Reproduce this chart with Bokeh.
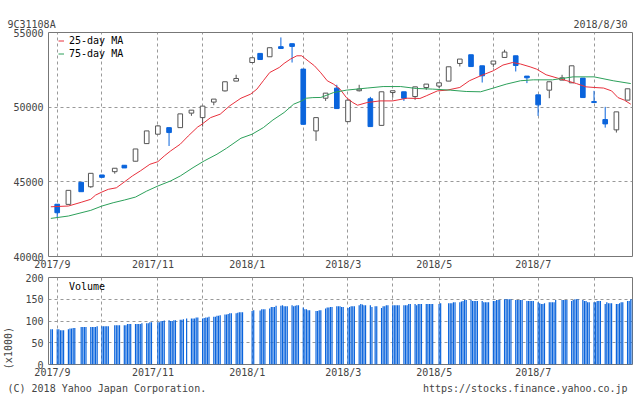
import pandas as pd
from bokeh.plotting import figure
from bokeh.models import FixedTicker, Legend, Range1d, ColumnDataSource
from bokeh.layouts import column
from bokeh.embed import file_html
from bokeh.resources import INLINE

# ---------------- data ----------------
week_dates = ["2017-09-04", "2017-09-11", "2017-09-19", "2017-09-25", "2017-10-02", "2017-10-10",
              "2017-10-16", "2017-10-23", "2017-10-30", "2017-11-06", "2017-11-13", "2017-11-20",
              "2017-11-27", "2017-12-04", "2017-12-11", "2017-12-18", "2017-12-25", "2018-01-04",
              "2018-01-09", "2018-01-15", "2018-01-22", "2018-01-29", "2018-02-05", "2018-02-13",
              "2018-02-19", "2018-02-26", "2018-03-05", "2018-03-12", "2018-03-19", "2018-03-26",
              "2018-04-02", "2018-04-09", "2018-04-16", "2018-04-23", "2018-05-01", "2018-05-07",
              "2018-05-14", "2018-05-21", "2018-05-28", "2018-06-04", "2018-06-11", "2018-06-18",
              "2018-06-25", "2018-07-02", "2018-07-09", "2018-07-17", "2018-07-23", "2018-07-30",
              "2018-08-06", "2018-08-13", "2018-08-20", "2018-08-27"]
open_ = [43500, 43490, 44970, 44670, 45460, 45680, 46110, 46380, 47560, 48190, 48630, 48630,
         49600, 49300, 50340, 51090, 51745, 52990, 53600, 53375, 54050, 54250, 52550, 48410,
         50600, 51275, 49030, 51100, 50560, 48780, 50980, 51030, 50710, 51315, 51410, 51745,
         52926, 53510, 52770, 52885, 53330, 53440, 52080, 50825, 51140, 51812, 51630, 51946,
         50376, 49170, 48480, 50470]
high = [43500, 44430, 44970, 45570, 45460, 45910, 46110, 47200, 48410, 48790, 48630, 49550,
        49800, 50070, 50540, 51700, 52170, 53310, 53600, 53980, 54670, 54250, 52550, 49300,
        50940, 51500, 50470, 51500, 50690, 51030, 51100, 51030, 51360, 51545, 51630, 52704,
        53221, 53510, 52770, 53090, 53845, 53440, 52080, 50825, 51700, 52167, 52770, 51946,
        51094, 50020, 49685, 51230]
low = [42600, 43490, 44340, 44600, 45300, 45545, 45930, 46380, 47560, 48190, 47400, 48630,
       49420, 48700, 50130, 51050, 51745, 52990, 53190, 53375, 53930, 52990, 48850, 47740,
       50420, 49906, 49030, 51050, 48700, 48780, 50640, 50420, 50490, 51160, 51275, 51745,
       52724, 52720, 51650, 52700, 53330, 52390, 51610, 49416, 50600, 51812, 51630, 50644,
       50309, 48630, 48300, 50470]
close = [42930, 44430, 44340, 45570, 45300, 45910, 45930, 47200, 48410, 48745, 48300, 49550,
         49800, 50070, 50540, 51700, 51920, 53310, 53190, 53980, 53930, 54070, 48850, 49300,
         50940, 49906, 50470, 51210, 48700, 51030, 51100, 50600, 51360, 51545, 51630, 52704,
         53221, 52720, 52100, 53090, 53690, 52790, 51966, 50154, 51700, 51966, 52770, 50644,
         50309, 48880, 49685, 51230]

ma25_dates = ["2017-08-31", "2017-09-11", "2017-09-19", "2017-09-25", "2017-09-28", "2017-10-02",
              "2017-10-06", "2017-10-11", "2017-10-16", "2017-10-21", "2017-10-26", "2017-11-01",
              "2017-11-06", "2017-11-10", "2017-11-14", "2017-11-20", "2017-11-25", "2017-12-01",
              "2017-12-03", "2017-12-09", "2017-12-15", "2017-12-21", "2017-12-28", "2018-01-03",
              "2018-01-07", "2018-01-11", "2018-01-15", "2018-01-21", "2018-01-24", "2018-01-28",
              "2018-02-01", "2018-02-04", "2018-02-08", "2018-02-12", "2018-02-16", "2018-02-20",
              "2018-02-24", "2018-02-28", "2018-03-04", "2018-03-08", "2018-03-11", "2018-03-17",
              "2018-03-25", "2018-04-02", "2018-04-11", "2018-04-19", "2018-04-23", "2018-04-30",
              "2018-05-06", "2018-05-14", "2018-05-20", "2018-05-27", "2018-06-04", "2018-06-10",
              "2018-06-16", "2018-06-21", "2018-06-27", "2018-07-01", "2018-07-07", "2018-07-14",
              "2018-07-20", "2018-07-26", "2018-08-01", "2018-08-06", "2018-08-12", "2018-08-17",
              "2018-08-21", "2018-08-25", "2018-08-29"]
ma25 = [43330, 43380, 43630, 43830, 44110, 44320, 44500, 44600, 44990, 45390, 45730, 46175,
        46350, 46730, 47070, 47520, 48070, 48680, 48810, 49300, 49530, 50090, 50600, 50870,
        51210, 51770, 52320, 52660, 52930, 53220, 53440, 53440, 53100, 52770, 52300, 51770,
        51540, 51210, 50640, 50310, 50130, 50310, 50420, 50420, 50600, 50580, 50760, 51090,
        51140, 51320, 51770, 52100, 52440, 52820, 52990, 52890, 52700, 52550, 52170, 51950,
        51770, 51580, 51360, 51320, 51280, 51090, 50640, 50470, 50200]

ma75_dates = ["2017-08-31", "2017-09-11", "2017-09-25", "2017-10-02", "2017-10-09", "2017-10-16",
              "2017-10-23", "2017-10-30", "2017-11-06", "2017-11-14", "2017-11-20", "2017-11-28",
              "2017-12-05", "2017-12-13", "2017-12-19", "2017-12-28", "2018-01-04", "2018-01-11",
              "2018-01-17", "2018-01-24", "2018-01-30", "2018-02-04", "2018-02-07", "2018-02-11",
              "2018-02-16", "2018-02-24", "2018-03-04", "2018-03-17", "2018-03-27", "2018-04-07",
              "2018-04-17", "2018-04-27", "2018-05-08", "2018-05-18", "2018-05-27", "2018-06-04",
              "2018-06-12", "2018-06-21", "2018-06-29", "2018-07-11", "2018-07-24", "2018-08-06",
              "2018-08-18", "2018-08-29"]
ma75 = [42550, 42710, 43090, 43380, 43600, 43780, 43980, 44380, 44720, 45060, 45390, 45950,
        46400, 46850, 47250, 47920, 48190, 48630, 49140, 49640, 50200, 50420, 50600, 50640,
        50650, 50980, 51140, 51280, 51380, 51380, 51250, 51210, 51140, 51050, 51030, 51280,
        51540, 51770, 51830, 51830, 52030, 52030, 51770, 51580]

holidays = ["2017-09-18", "2017-10-09", "2017-11-03", "2017-11-23", "2018-01-01", "2018-01-02",
            "2018-01-03", "2018-01-08", "2018-02-12", "2018-03-21", "2018-04-30", "2018-05-03",
            "2018-05-04", "2018-07-16"]

# daily volume (x1000), one inner list per calendar week
vol_weeks = [
    [81, 81], [81, 81, 79, 79, 79], [81, 83, 83, 84, 84], [86, 86, 86, 86], [86, 86, 86, 86, 88],
    [88, 88, 88, 88, 88], [90, 90, 90, 90], [90, 90, 93, 93, 93], [93, 93, 93, 93, 95],
    [95, 95, 97, 97], [97, 97, 100, 100, 101], [102, 100, 100, 102, 102], [103, 103, 104, 106],
    [106, 106, 106, 108, 108], [106, 107, 108, 108, 110], [110, 110, 112, 112, 113],
    [115, 115, 116, 118, 118], [118, 119, 120, 120, 120], [123, 125], [124, 127, 127, 127],
    [129, 132, 132, 132, 135], [135, 136, 134, 134, 134], [136, 134, 135, 136, 136],
    [131, 127, 127, 125, 125], [123, 123, 125, 125], [129, 131, 131, 132, 132],
    [134, 134, 134, 132, 132], [130, 132, 134, 134, 134], [136, 139, 138, 136, 136],
    [136, 132, 134, 134], [130, 134, 134, 136, 136], [136, 136, 136, 136, 136],
    [136, 136, 136, 139, 139], [139, 136, 139, 139, 139], [139, 139, 139, 139, 139], [139, 141],
    [141, 141, 141, 143, 143], [143, 145, 146, 148, 148], [148, 146, 146, 146, 146],
    [146, 143, 143, 143, 143], [146, 146, 148, 148, 148], [150, 150, 150, 150, 150],
    [148, 148, 148, 148, 148], [146, 146, 146, 146, 146], [143, 141, 139, 139, 141],
    [143, 143, 143, 143, 148], [148, 148, 148, 148], [146, 148, 150, 150, 150],
    [148, 146, 146, 143, 143], [143, 143, 146, 146, 146], [139, 143, 141, 141, 141],
    [139, 139, 141, 143, 143], [146, 146, 150, 150],
]

grid_dates = ["2017-09-04", "2017-10-02", "2017-11-06", "2017-12-04", "2018-01-04", "2018-02-05",
              "2018-03-05", "2018-04-02", "2018-05-01", "2018-06-04", "2018-07-02", "2018-08-06"]
tick_labels = ["2017/9", "2017/11", "2018/1", "2018/3", "2018/5", "2018/7"]
tick_label_grid = ["2017-09-04", "2017-11-06", "2018-01-04", "2018-03-05", "2018-05-01", "2018-07-02"]

code_text = "9C31108A"
date_text = "2018/8/30"
copyright_text = "(C) 2018 Yahoo Japan Corporation."
url_text = "https://stocks.finance.yahoo.co.jp"
unit_text = "(x1000)"

# ---------------- helpers ----------------
DAY = 86400000.0
NB = "\u00a0"


def ms(s):
    return pd.Timestamp(s).value / 1e6


BLUE = "#0a64dc"
RED = "#e8303c"
GREEN = "#2ca05a"
GRAYLINE = "#555555"
TXT = "#444444"
FONT = "DejaVu Sans Mono"
FS = "10px"

x_range = Range1d(ms("2017-08-29 13:00"), ms("2018-08-30 02:00"))
grid_ms = [ms(d) for d in grid_dates]
label_ms = [int(ms(d) - 3 * DAY) for d in tick_label_grid]


def style(p, xgrid, ygrid, yticks):
    p.outline_line_color = "#777777"
    p.outline_line_width = 1
    p.background_fill_color = "white"
    p.border_fill_color = "white"
    for ax in [p.xaxis[0], p.yaxis[0]]:
        ax.axis_line_color = None
        ax.major_tick_line_color = None
        ax.minor_tick_line_color = None
        ax.major_tick_out = 0
        ax.major_tick_in = 0
        ax.major_label_text_font = FONT
        ax.major_label_text_font_size = FS
        ax.major_label_text_color = TXT
    p.xaxis[0].ticker = FixedTicker(ticks=label_ms)
    p.xaxis[0].major_label_overrides = {v: t for v, t in zip(label_ms, tick_labels)}
    p.xaxis[0].major_label_standoff = 2
    p.yaxis[0].ticker = FixedTicker(ticks=yticks)
    p.yaxis[0].major_label_overrides = {v: str(v) for v in yticks}
    p.yaxis[0].major_label_standoff = 5
    p.xgrid.ticker = FixedTicker(ticks=xgrid)
    p.ygrid.ticker = FixedTicker(ticks=ygrid)
    for g in [p.xgrid[0], p.ygrid[0]]:
        g.grid_line_color = "#999999"
        g.grid_line_dash = "3 3"
        g.grid_line_width = 1


def style_title(t, standoff):
    t.align = "left"
    t.offset = -41
    t.standoff = standoff
    t.text_font = FONT
    t.text_font_size = FS
    t.text_font_style = "normal"
    t.text_color = TXT


# ---------------- main price panel ----------------
p1 = figure(width=634, height=272, x_range=x_range, y_range=Range1d(40000, 55000),
            output_backend="svg", toolbar_location=None,
            title=code_text + NB * 86 + date_text,
            min_border_left=48, min_border_right=2, min_border_top=32, min_border_bottom=16)
style(p1, grid_ms, [45000, 50000], [40000, 45000, 50000, 55000])
style_title(p1.title, 6)

xs = [ms(d) for d in week_dates]
up = [c >= o for o, c in zip(open_, close)]
src = ColumnDataSource(dict(
    x=xs, hi=high, lo=low,
    top=[max(o, c) for o, c in zip(open_, close)],
    bot=[min(o, c) for o, c in zip(open_, close)],
    fill=["white" if u else BLUE for u in up],
    line=[GRAYLINE if u else BLUE for u in up],
))
p1.segment(x0="x", y0="lo", x1="x", y1="hi", source=src, line_color="line", line_width=1)
p1.vbar(x="x", width=2.9 * DAY, top="top", bottom="bot", source=src,
        fill_color="fill", line_color="line", line_width=1)

r25 = p1.line([ms(d) for d in ma25_dates], ma25, line_color=RED, line_width=1)
r75 = p1.line([ms(d) for d in ma75_dates], ma75, line_color=GREEN, line_width=1)

leg1 = Legend(items=[("25-day MA", [r25]), ("75-day MA", [r75])], location=(10, 196),
              padding=0, margin=0, spacing=0, glyph_width=6, glyph_height=13, label_height=13,
              label_standoff=5, label_text_font=FONT, label_text_font_size=FS,
              label_text_color="#000000", border_line_alpha=0, background_fill_alpha=0)
p1.add_layout(leg1)

# ---------------- volume panel ----------------
days = [d for d in pd.bdate_range("2017-08-31", "2018-08-30") if d.strftime("%Y-%m-%d") not in holidays]
groups = {}
for d in days:
    groups.setdefault(d - pd.Timedelta(days=d.weekday()), []).append(d)
groups = list(groups.values())
if len(groups) != len(vol_weeks):
    raise ValueError("week count mismatch %d %d" % (len(groups), len(vol_weeks)))
vol_x, vol_y = [], []
for g, vals in zip(groups, vol_weeks):
    if len(g) != len(vals):
        raise ValueError("day count mismatch at %s" % g[0])
    vol_x += [d.value / 1e6 for d in g]
    vol_y += vals

p2 = figure(width=634, height=122, x_range=x_range, y_range=Range1d(0, 200),
            output_backend="svg", toolbar_location=None,
            title=copyright_text + NB * 36 + url_text, title_location="below",
            min_border_left=48, min_border_right=2, min_border_top=5, min_border_bottom=30)
style(p2, grid_ms, [50, 100, 150], [0, 50, 100, 150, 200])
style_title(p2.title, 0)
p2.yaxis[0].axis_label = unit_text + NB * 9
p2.yaxis[0].axis_label_standoff = 8
p2.yaxis[0].axis_label_text_font = FONT
p2.yaxis[0].axis_label_text_font_size = FS
p2.yaxis[0].axis_label_text_font_style = "normal"
p2.yaxis[0].axis_label_text_color = TXT

p2.vbar(x=vol_x, top=vol_y, bottom=0, width=0.75 * DAY, fill_color=BLUE, line_color=None)
rv = p2.line([], [], line_color=BLUE, line_width=1)
leg2 = Legend(items=[("Volume", [rv])], location=(10, 71),
              padding=0, margin=0, spacing=0, glyph_width=6, glyph_height=13, label_height=13,
              label_standoff=5, label_text_font=FONT, label_text_font_size=FS,
              label_text_color="#000000", border_line_alpha=0, background_fill_alpha=0)
p2.add_layout(leg2)

layout = column(p1, p2, spacing=0)
open("out.html", "w").write(file_html(layout, INLINE))
